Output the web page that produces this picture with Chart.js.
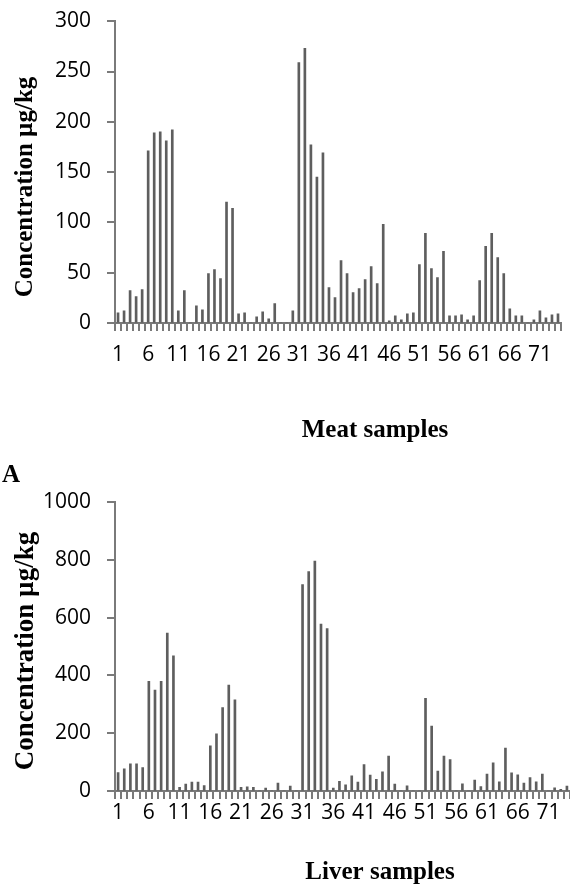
<!DOCTYPE html>
<html>
<head>
<meta charset="utf-8">
<script src="https://cdn.jsdelivr.net/npm/chart.js@4/dist/chart.umd.min.js"></script>
<style>
  html, body { margin: 0; padding: 0; background: #ffffff; }
  body { width: 570px; height: 890px; position: relative; overflow: hidden; }
  .panel { position: absolute; left: 0; width: 570px; }
  #meatBox { top: 0; height: 455px; }
  #liverBox { top: 455px; height: 435px; }
</style>
</head>
<body>
<div class="panel" id="meatBox"><canvas id="meatChart"></canvas></div>
<div class="panel" id="liverBox"><canvas id="liverChart"></canvas></div>
<script>
// Sample numbers 1..74 (every fifth one is labelled on the axis)
const sampleNumbers = Array.from({ length: 74 }, (_, i) => String(i + 1));

// Concentration in meat samples (µg/kg)
const meatValues = [
  10, 12, 32, 26, 33, 171, 189, 190, 181, 192,
  12, 32, 0, 17, 13, 49, 53, 44, 120, 114,
  9, 10, 0, 6, 11, 4, 19, 0, 0, 12,
  259, 273, 177, 145, 169, 35, 25, 62, 49, 30,
  34, 43, 56, 39, 98, 2, 7, 3, 9, 10,
  58, 89, 54, 45, 71, 7, 7, 8, 3, 7,
  42, 76, 89, 65, 49, 14, 7, 7, 0, 3,
  12, 5, 8, 9
];

// Concentration in liver samples (µg/kg)
const liverValues = [
  63, 76, 93, 93, 80, 379, 349, 379, 546, 467,
  12, 23, 30, 30, 18, 156, 197, 288, 366, 315,
  12, 14, 12, 0, 9, 0, 27, 0, 16, 0,
  714, 759, 795, 577, 562, 9, 33, 21, 52, 30,
  91, 54, 40, 66, 120, 23, 0, 17, 0, 0,
  320, 224, 68, 120, 108, 0, 24, 0, 37, 15,
  58, 97, 31, 148, 62, 55, 27, 46, 31, 58,
  0, 10, 5, 16
];

const meatTicks = [0, 50, 100, 150, 200, 250, 300];
const liverTicks = [0, 200, 400, 600, 800, 1000];

const BAR = '#5e5e5e';
const AXIS = '#7a7a7a';
const TICK_LEN = 8;
const X_FONT = { family: '"Open Sans", sans-serif', size: 21, lineHeight: 1.2 };
const Y_FONT = { family: '"Open Sans", sans-serif', size: 21, lineHeight: 0.5 };

// Outward tick marks: at every category boundary on x, at every value tick on y
const tickMarkPlugin = {
  id: 'tickMarks',
  afterDraw(chart) {
    const ctx = chart.ctx;
    const xs = chart.scales.x;
    const ys = chart.scales.y;
    const base = Math.round(chart.chartArea.bottom);
    const axisX = Math.round(chart.chartArea.left);
    ctx.save();
    ctx.setTransform(1, 0, 0, 1, 0, 0);
    ctx.globalCompositeOperation = 'source-over';
    ctx.globalAlpha = 1;
    ctx.fillStyle = AXIS;
    for (let i = 0; i <= sampleNumbers.length; i++) {
      const px = Math.round(xs.getPixelForValue(i - 0.5));
      ctx.fillRect(px - 1, base, 2, TICK_LEN);
    }
    ys.ticks.forEach(t => {
      const py = Math.round(ys.getPixelForValue(t.value));
      ctx.fillRect(axisX - TICK_LEN, py - 1, TICK_LEN, 2);
    });
    ctx.restore();
  }
};

// Draws free-standing captions (axis titles, panel letter) on the canvas
const captionPlugin = {
  id: 'captions',
  afterDraw(chart, args, opts) {
    const ctx = chart.ctx;
    (opts.items || []).forEach(item => {
      ctx.save();
      ctx.font = 'bold ' + item.size + 'px "Liberation Serif", "Times New Roman", serif';
      ctx.fillStyle = '#000000';
      ctx.textAlign = 'center';
      ctx.textBaseline = 'middle';
      ctx.translate(item.x, item.y);
      if (item.rotate) ctx.rotate(item.rotate);
      ctx.fillText(item.text, 0, 0);
      ctx.restore();
    });
  }
};

function makeChart(canvasId, values, ticks, cfg) {
  const ymax = ticks[ticks.length - 1];
  return new Chart(document.getElementById(canvasId), {
    type: 'bar',
    data: {
      labels: sampleNumbers,
      datasets: [{
        data: values,
        backgroundColor: BAR,
        borderWidth: 0,
        barThickness: 2
      }]
    },
    options: {
      responsive: true,
      maintainAspectRatio: false,
      animation: false,
      layout: { padding: cfg.pad },
      plugins: {
        legend: { display: false },
        tooltip: { enabled: false },
        captions: { items: cfg.captions }
      },
      scales: {
        x: {
          grid: {
            drawOnChartArea: false,
            drawTicks: true,
            tickLength: TICK_LEN,
            color: 'rgba(0,0,0,0)',
            tickColor: 'rgba(0,0,0,0)'
          },
          border: { display: true, color: AXIS, width: 2 },
          ticks: {
            autoSkip: false,
            maxRotation: 0,
            minRotation: 0,
            padding: cfg.xPad,
            color: '#000000',
            font: X_FONT,
            callback: (v, i) => (i % 5 === 0 ? sampleNumbers[i] : '')
          }
        },
        y: {
          min: 0,
          max: ymax,
          afterBuildTicks: s => { s.ticks = ticks.map(v => ({ value: v })); },
          grid: {
            drawOnChartArea: false,
            drawTicks: true,
            tickLength: TICK_LEN,
            color: 'rgba(0,0,0,0)',
            tickColor: 'rgba(0,0,0,0)'
          },
          border: { display: true, color: AXIS, width: 2 },
          ticks: {
            padding: 16,
            color: '#000000',
            font: Y_FONT,
            callback: v => String(v)
          }
        }
      }
    },
    plugins: [tickMarkPlugin, captionPlugin]
  });
}

makeChart('meatChart', meatValues, meatTicks, {
  pad: { top: 21, right: 0, bottom: 75, left: 39 },
  xPad: 12,
  captions: [
    { text: 'Concentration µg/kg', size: 25, x: 26, y: 187, rotate: -Math.PI / 2 },
    { text: 'Meat samples', size: 25, x: 375, y: 431 }
  ]
});

makeChart('liverChart', liverValues, liverTicks, {
  pad: { top: 47, right: 0, bottom: 63, left: 27 },
  xPad: 1.5,
  captions: [
    { text: 'A', size: 25, x: 11, y: 21 },
    { text: 'Concentration µg/kg', size: 27, x: 26, y: 196, rotate: -Math.PI / 2 },
    { text: 'Liver samples', size: 25, x: 380, y: 418 }
  ]
});
</script>
</body>
</html>
